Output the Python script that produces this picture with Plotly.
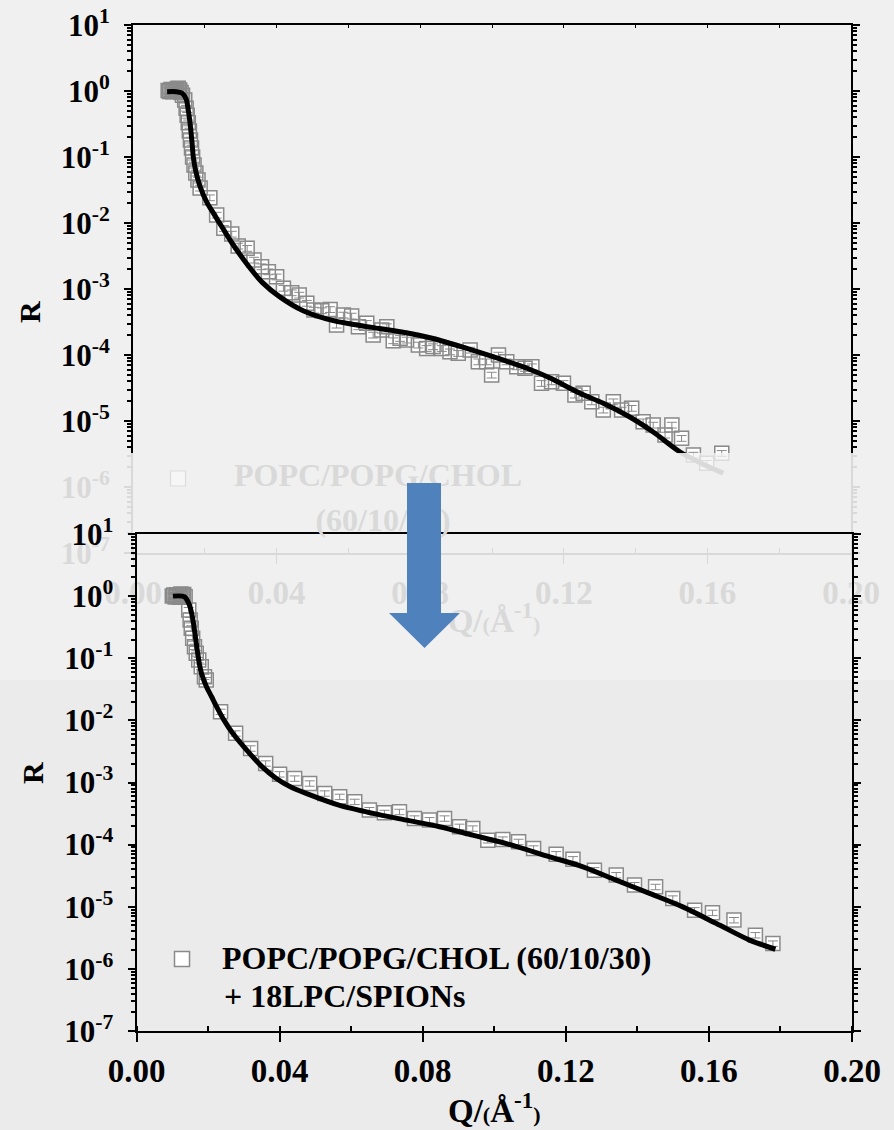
import plotly.graph_objects as go

W, H = 894, 1130
FONT = "Liberation Serif"
FADE = "#d9d9d9"

# ---------------- reflectivity data ----------------
# POPC/POPG/CHOL (60/10/30) bilayer
q_top = [0.0098, 0.0102, 0.0106, 0.0110, 0.0114, 0.0118, 0.0122, 0.0126, 0.0130, 0.0134,
         0.0138, 0.0144, 0.0148, 0.0151, 0.0154, 0.0157, 0.0160, 0.0163, 0.0166, 0.0170,
         0.0175, 0.0181, 0.0187, 0.0214, 0.0233, 0.0253, 0.0275, 0.0293, 0.0318, 0.0337,
         0.0358, 0.0377, 0.0400, 0.0419, 0.0442, 0.0463, 0.0484, 0.0504, 0.0526, 0.0549,
         0.0567, 0.0586, 0.0609, 0.0628, 0.0651, 0.0669, 0.0693, 0.0707, 0.0725, 0.0744,
         0.0762, 0.0795, 0.0818, 0.0836, 0.0860, 0.0883, 0.0906, 0.0939, 0.0962, 0.0985,
         0.0999, 0.1018, 0.1041, 0.1069, 0.1092, 0.1111, 0.1138, 0.1166, 0.1199, 0.1231,
         0.1254, 0.1278, 0.1310, 0.1338, 0.1361, 0.1389, 0.1421, 0.1449, 0.1482, 0.1501,
         0.1528, 0.1561, 0.1598, 0.1640]
r_top = [1.02, 0.98, 1.05, 0.97, 1.03, 1.00, 1.06, 1.10, 1.04, 0.95,
         0.86, 0.73, 0.55, 0.43, 0.33, 0.248, 0.181, 0.137, 0.100, 0.0757,
         0.0573, 0.0449, 0.0339, 0.0242, 0.0132, 0.0083, 0.0068, 0.00449, 0.00414, 0.00275,
         0.00218, 0.00183, 0.00153, 0.00103, 0.00088, 0.00081, 0.00061, 0.00048, 0.00047, 0.00049,
         0.000285, 0.000404, 0.00039, 0.000269, 0.000302, 0.000201, 0.000239, 0.000269, 0.000165, 0.000179,
         0.000169, 0.000142, 0.000126, 0.000134, 0.000126, 0.000112, 0.000106, 0.000119, 7.91e-5, 7.91e-5,
         4.98e-5, 1.00e-4, 7.91e-5, 6.65e-5, 6.28e-5, 6.65e-5, 3.72e-5, 3.94e-5, 3.72e-5, 2.48e-5,
         2.63e-5, 1.96e-5, 1.47e-5, 1.96e-5, 1.47e-5, 1.56e-5, 9.75e-6, 8.69e-6, 6.14e-6, 8.69e-6,
         5.47e-6, 3.05e-6, 2.29e-6, 3.24e-6]
q_fit_top = [0.0095, 0.0120, 0.0136, 0.0148, 0.0154, 0.0159, 0.0164, 0.0168, 0.0175, 0.0187,
             0.0205, 0.0224, 0.0250, 0.0279, 0.0320, 0.0360, 0.0409, 0.0474, 0.0558, 0.0651,
             0.0744, 0.0836, 0.0930, 0.1022, 0.1106, 0.1162, 0.1245, 0.1310, 0.1384, 0.1450,
             0.1524, 0.1590, 0.1644]
r_fit_top = [0.977, 0.977, 0.933, 0.759, 0.513, 0.324, 0.174, 0.100, 0.0603, 0.0355,
             0.0209, 0.0141, 0.00832, 0.00468, 0.00229, 0.00126, 0.000759, 0.000468, 0.000331, 0.000269,
             0.000225, 0.000178, 0.000126, 8.71e-5, 6.03e-5, 4.47e-5, 2.63e-5, 1.86e-5, 1.15e-5, 6.76e-6,
             3.39e-6, 2.19e-6, 1.62e-6]

# POPC/POPG/CHOL (60/10/30) + 18LPC/SPIONs
q_bot = [0.0100, 0.0104, 0.0108, 0.0112, 0.0116, 0.0120, 0.0124, 0.0128, 0.0132, 0.0136,
         0.0146, 0.0150, 0.0153, 0.0157, 0.0162, 0.0167, 0.0174, 0.0181, 0.0190, 0.0195,
         0.0235, 0.0277, 0.0319, 0.0361, 0.0400, 0.0442, 0.0484, 0.0526, 0.0568, 0.0610,
         0.0651, 0.0693, 0.0735, 0.0777, 0.0819, 0.0861, 0.0903, 0.0940, 0.0982, 0.1024,
         0.1068, 0.1110, 0.1173, 0.1220, 0.1280, 0.1341, 0.1392, 0.1451, 0.1499, 0.1560,
         0.1610, 0.1670, 0.1730, 0.1779]
r_bot = [1.00, 1.04, 0.97, 1.05, 1.01, 0.96, 1.08, 1.02, 1.06, 0.98,
         0.597, 0.412, 0.303, 0.209, 0.153, 0.120, 0.0936, 0.073, 0.0504, 0.0446,
         0.01377, 0.00618, 0.00354, 0.00203, 0.00136, 0.00116, 0.000968, 0.000667, 0.000589, 0.000489,
         0.000360, 0.000325, 0.000337, 0.000264, 0.000248, 0.000264, 0.000194, 0.000182, 0.000118, 0.000121,
         0.000111, 8.69e-5, 7.03e-5, 5.83e-5, 3.88e-5, 3.23e-5, 2.23e-5, 2.09e-5, 1.36e-5, 8.8e-6,
         8.0e-6, 6.1e-6, 3.49e-6, 2.56e-6]
q_fit_bot = [0.0102, 0.0134, 0.0148, 0.0156, 0.0162, 0.0170, 0.0176, 0.0183, 0.0195, 0.0210,
             0.0223, 0.0245, 0.0269, 0.0316, 0.0350, 0.0391, 0.0430, 0.0474, 0.0568, 0.0661,
             0.0754, 0.0847, 0.0940, 0.1034, 0.1155, 0.1248, 0.1341, 0.1434, 0.1527, 0.1621,
             0.1714, 0.1786]
r_fit_bot = [1.0, 0.977, 0.719, 0.468, 0.284, 0.132, 0.0794, 0.0537, 0.0355, 0.024,
             0.017, 0.01, 0.00618, 0.00294, 0.00182, 0.00116, 0.000851, 0.000667, 0.000427, 0.000318,
             0.000248, 0.000194, 0.000142, 0.000104, 6.37e-5, 4.4e-5, 2.68e-5, 1.64e-5, 9.95e-6, 5.38e-6,
             2.9e-6, 2.07e-6]

q_ticks = [0.0, 0.04, 0.08, 0.12, 0.16, 0.20]
q_labels = ["0.00", "0.04", "0.08", "0.12", "0.16", "0.20"]
exps = [1, 0, -1, -2, -3, -4, -5, -6, -7]


def fx(px):
    return px / W


def fy(py):
    return 1 - py / H


def dec_labels(es):
    return [10.0 ** e for e in es], [f"10<sup>{e}</sup>" for e in es]


def minor_vals(lo, hi):
    return [m * 10.0 ** e for e in range(-8, 2) for m in range(2, 10)
            if lo <= m * 10.0 ** e <= hi]


tickfont = dict(family=FONT, size=31, color="black", weight="bold")
xtickfont = dict(family=FONT, size=33, color="black", weight="bold")
fadefont = dict(family=FONT, size=31, color=FADE, weight="bold")
xfadefont = dict(family=FONT, size=33, color=FADE, weight="bold")

fig = go.Figure()


def add_panel(q, r, qf, rf, xa, ya, fill, edge, curve):
    fig.add_trace(go.Scatter(x=q, y=r, mode="markers", xaxis=xa, yaxis=ya,
                             marker=dict(symbol="square", size=14, color=fill, line=dict(width=0)),
                             hoverinfo="skip", showlegend=False))
    fig.add_trace(go.Scatter(x=q, y=r, mode="markers", xaxis=xa, yaxis=ya,
                             marker=dict(symbol="square-open", size=14, color=edge,
                                         line=dict(width=1.5, color=edge)),
                             error_y=dict(type="percent", value=10, color=edge, thickness=1, width=5),
                             hoverinfo="skip", showlegend=False))
    fig.add_trace(go.Scatter(x=qf, y=rf, mode="lines", xaxis=xa, yaxis=ya,
                             line=dict(color=curve, width=5, shape="spline", smoothing=0.8),
                             hoverinfo="skip", showlegend=False))


# faded full-height copy of the upper panel, underneath
add_panel(q_top, r_top, q_fit_top, r_fit_top, "x", "y", "#f6f6f6", "#dcdcdc", FADE)
# sharp upper panel, cut off above the lower panel
add_panel(q_top, r_top, q_fit_top, r_fit_top, "x2", "y2", "white", "#8a8a8a", "black")
# lower panel
add_panel(q_bot, r_bot, q_fit_bot, r_fit_bot, "x3", "y3", "white", "#8a8a8a", "black")

# faded caption texts of the upper panel, in page pixel coordinates
fig.add_trace(go.Scatter(
    x=[378, 383, 494], y=[478, 523, 624], mode="text", xaxis="x4", yaxis="y4",
    text=["POPC/POPG/CHOL", "(60/10/30)",
          "Q/<span style='font-size:22px'>(</span>Å<sup>-1</sup><span style='font-size:22px'>)</span>"],
    textposition="middle center",
    textfont=dict(family=FONT, size=[32, 32, 33], color=FADE, weight="bold"),
    hoverinfo="skip", showlegend=False))

top_dom_x = [fx(133), fx(851)]
bot_dom_x = [fx(136.5), fx(852)]

fv, ft = dec_labels([-6, -7])
cv, ct = dec_labels([1, 0, -1, -2, -3, -4, -5])
bv, bt = dec_labels(exps)

common_x = dict(range=[0, 0.2], showgrid=False, zeroline=False, linewidth=2)
common_y = dict(type="log", showgrid=False, zeroline=False, linewidth=2,
                ticks="outside", ticklen=7, tickwidth=1.5, ticklabelstandoff=8)

fig.update_layout(
    width=W, height=H, margin=dict(l=0, r=0, t=0, b=0, pad=0),
    paper_bgcolor="#f0f0f0", plot_bgcolor="rgba(0,0,0,0)",
    template="none", font=dict(family=FONT), hovermode=False,
    # faded upper panel
    xaxis=dict(common_x, domain=top_dom_x, anchor="y", showline=True, linecolor=FADE,
               tickvals=q_ticks, ticktext=q_labels, ticks="outside", ticklen=9, tickcolor=FADE,
               tickfont=xfadefont, ticklabelstandoff=0,
               minor=dict(dtick=0.02, ticks="inside", ticklen=5, tickcolor=FADE)),
    yaxis=dict(common_y, range=[-7, 1], domain=[fy(553), fy(25)], anchor="x",
               showline=True, linecolor=FADE, mirror="ticks", tickcolor=FADE,
               tickvals=fv, ticktext=ft, tickfont=fadefont,
               minor=dict(tickvals=minor_vals(1e-7, 3.1e-6), ticks="outside", ticklen=4,
                          tickcolor=FADE)),
    # sharp upper panel
    xaxis2=dict(common_x, domain=top_dom_x, anchor="y2", side="top", showline=True,
                linecolor="black", showticklabels=False, ticks="inside", dtick=0.02,
                ticklen=3, tickcolor="black"),
    yaxis2=dict(common_y, range=[1 - (453 - 25) / 66, 1], domain=[fy(453), fy(25)], anchor="x2",
                showline=True, linecolor="black", mirror="ticks", tickcolor="black",
                tickvals=cv, ticktext=ct, tickfont=tickfont,
                minor=dict(tickvals=minor_vals(3.3e-6, 10), ticks="outside", ticklen=4,
                           tickcolor="black")),
    # lower panel
    xaxis3=dict(common_x, domain=bot_dom_x, anchor="y3", showline=True, linecolor="black",
                mirror=True, tickvals=q_ticks, ticktext=q_labels, ticks="outside", ticklen=9,
                tickwidth=1.5, tickcolor="black", tickfont=xtickfont, ticklabelstandoff=0,
                minor=dict(dtick=0.02, ticks="inside", ticklen=5, tickcolor="black")),
    yaxis3=dict(common_y, range=[-7, 1], domain=[fy(1031), fy(534)], anchor="x3",
                showline=True, linecolor="black", mirror="ticks", tickcolor="black",
                tickvals=bv, ticktext=bt, tickfont=tickfont,
                minor=dict(tickvals=minor_vals(1e-7, 10), ticks="outside", ticklen=4,
                           tickcolor="black")),
    # page-pixel overlay for free text
    xaxis4=dict(range=[0, W], domain=[0, 1], anchor="y4", visible=False, fixedrange=True),
    yaxis4=dict(range=[H, 0], domain=[0, 1], anchor="x4", visible=False, fixedrange=True),
)

# downward arrow between the panels
arrow = [(407, 483), (441, 483), (441, 613), (460, 613), (424.5, 648), (389, 613), (407, 613)]
arrow_path = "M " + " L ".join(f"{fx(x):.5f},{fy(y):.5f}" for x, y in arrow) + " Z"

fig.update_layout(shapes=[
    dict(type="rect", xref="paper", yref="paper", x0=0, x1=1, y0=0, y1=fy(680),
         fillcolor="#ebebeb", line=dict(width=0), layer="below"),
    dict(type="rect", xref="paper", yref="paper", x0=fx(170.5), x1=fx(185.5),
         y0=fy(486), y1=fy(471), fillcolor="#f6f6f6", line=dict(width=1.2, color="#dcdcdc"),
         layer="below"),
    dict(type="rect", xref="paper", yref="paper", x0=fx(174.5), x1=fx(189.5),
         y0=fy(966.5), y1=fy(951.5), fillcolor="white", line=dict(width=1.5, color="#8a8a8a"),
         layer="above"),
    dict(type="path", xref="paper", yref="paper", path=arrow_path,
         fillcolor="#4f81bd", line=dict(width=0), layer="above"),
])

labfont = dict(family=FONT, size=32, color="black", weight="bold")
rfont = dict(family=FONT, size=30, color="black", weight="bold")
fig.update_layout(annotations=[
    dict(text="R", x=fx(30), y=fy(312), xref="paper", yref="paper", showarrow=False,
         xanchor="center", yanchor="middle", textangle=-90, font=rfont),
    dict(text="R", x=fx(32), y=fy(773), xref="paper", yref="paper", showarrow=False,
         xanchor="center", yanchor="middle", textangle=-90, font=rfont),
    dict(text="Q/<span style='font-size:22px'>(</span>Å<sup>-1</sup><span style='font-size:22px'>)</span>",
         x=fx(494), y=fy(1108), xref="paper", yref="paper", showarrow=False,
         xanchor="center", yanchor="middle",
         font=dict(family=FONT, size=33, color="black", weight="bold")),
    dict(text="POPC/POPG/CHOL (60/10/30)", x=fx(220), y=fy(958), xref="paper", yref="paper",
         xanchor="left", yanchor="middle", showarrow=False, font=labfont),
    dict(text="+ 18LPC/SPIONs", x=fx(222), y=fy(996), xref="paper", yref="paper",
         xanchor="left", yanchor="middle", showarrow=False, font=labfont),
])

fig.write_html("out.html")
